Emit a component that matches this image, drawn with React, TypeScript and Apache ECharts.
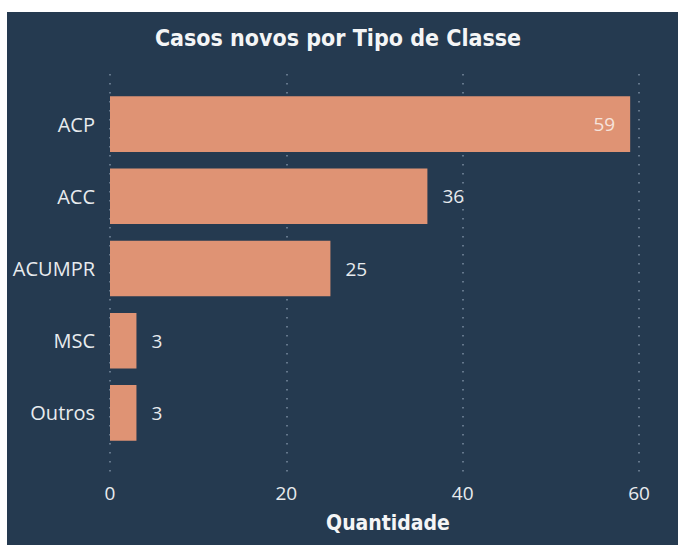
import React, { useEffect, useRef } from "react";
import * as echarts from "echarts";

const categories = ["ACP", "ACC", "ACUMPR", "MSC", "Outros"];
const values = [59, 36, 25, 3, 3];
const xTicks = [0, 20, 40, 60];
const titleText = "Casos novos por Tipo de Classe";
const xAxisTitle = "Quantidade";

const BG = "#253a50";
const BAR = "#df9374";
const LABEL = "#e8ebee";

export default function App() {
  const ref = useRef<HTMLDivElement>(null);
  useEffect(() => {
    if (!ref.current) return;
    const chart = echarts.init(ref.current, null, { renderer: "svg" });
    const xMin = xTicks[0];
    const xMax = xTicks[xTicks.length - 1];
    const interval = xTicks[1] - xTicks[0];
    chart.setOption({
      animation: false,
      backgroundColor: BG,
      graphic: [
        {
          type: "text",
          x: 331,
          y: 26,
          style: {
            text: titleText,
            fill: "#f4f5f6",
            font: "bold 23px 'DejaVu Sans Condensed', 'DejaVu Sans', sans-serif",
            textAlign: "center",
            textVerticalAlign: "middle",
          },
        },
        {
          type: "text",
          x: 381,
          y: 511,
          style: {
            text: xAxisTitle,
            fill: "#f4f5f6",
            font: "bold 21px 'DejaVu Sans Condensed', 'DejaVu Sans', sans-serif",
            textAlign: "center",
            textVerticalAlign: "middle",
          },
        },
      ],
      grid: [
        { left: 103, right: 39, top: 76, bottom: 96 },
        { left: 103, right: 39, top: 62, bottom: 73 },
      ],
      xAxis: [
        { gridIndex: 0, type: "value", min: xMin, max: xMax, interval, show: false },
        {
          gridIndex: 1,
          type: "value",
          min: xMin,
          max: xMax,
          interval,
          axisLine: { show: false },
          axisTick: { show: false },
          axisLabel: {
            color: LABEL,
            fontSize: 19,
            fontFamily: "'Open Sans', 'Noto Sans', sans-serif",
            margin: 11,
          },
          splitLine: {
            show: true,
            lineStyle: { color: "#7a8ca0", width: 1.5, type: [1.5, 7.5] },
          },
        },
      ],
      yAxis: [
        {
          gridIndex: 0,
          type: "category",
          data: categories,
          inverse: true,
          axisLine: { show: false },
          axisTick: { show: false },
          axisLabel: {
            color: LABEL,
            fontSize: 20,
            fontFamily: "'Open Sans', 'Noto Sans', sans-serif",
            margin: 15,
          },
        },
        { gridIndex: 1, type: "value", show: false },
      ],
      series: [
        {
          type: "bar",
          xAxisIndex: 0,
          yAxisIndex: 0,
          barCategoryGap: "23%",
          itemStyle: { color: BAR },
          data: values.map((v, i) => ({
            value: v,
            label:
              i === 0
                ? { position: "insideRight", distance: 15, color: "#f6e4dc" }
                : { position: "right", distance: 15, color: LABEL },
          })),
          label: {
            show: true,
            fontSize: 19,
            fontFamily: "'Open Sans', 'Noto Sans', sans-serif",
          },
        },
      ],
    });
    return () => chart.dispose();
  }, []);
  return (
    <div
      ref={ref}
      style={{ position: "fixed", left: 7, top: 12, width: 671, height: 533 }}
    />
  );
}
